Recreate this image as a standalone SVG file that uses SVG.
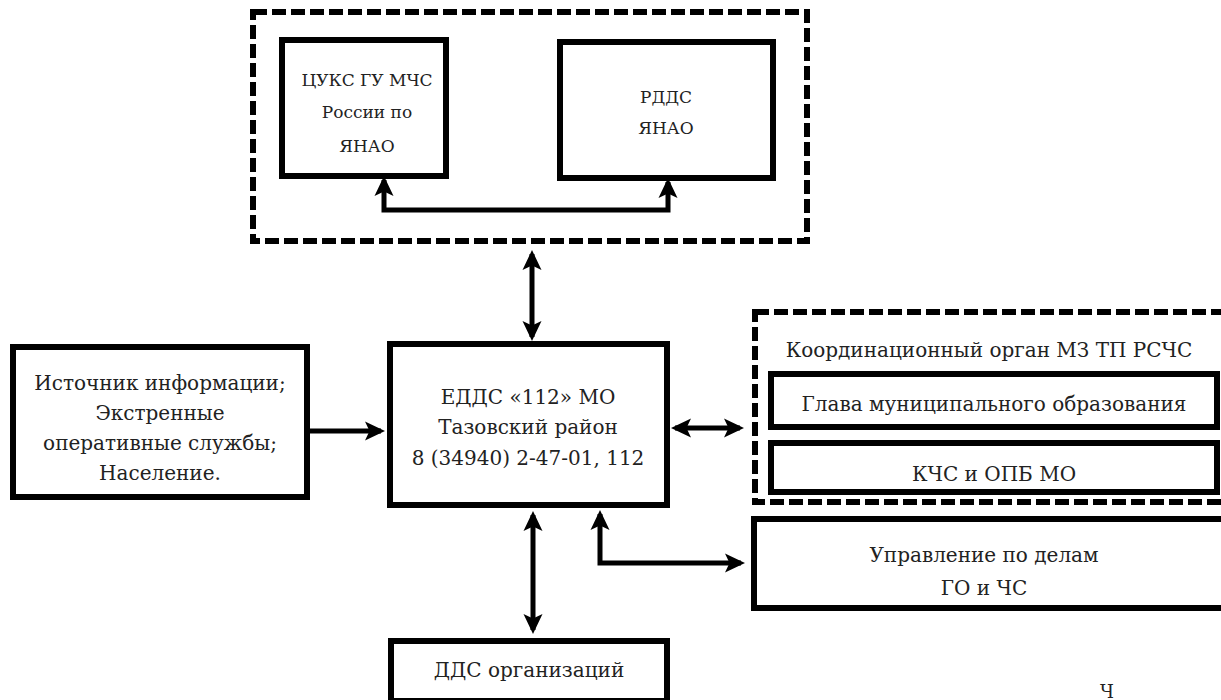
<svg xmlns="http://www.w3.org/2000/svg" width="1221" height="700" viewBox="0 0 1221 700">
<defs>
<marker id="ah" markerUnits="userSpaceOnUse" markerWidth="22" markerHeight="22" refX="16" refY="11" orient="auto-start-reverse" viewBox="0 0 22 22">
<path d="M0,1.5 L20,11 L0,20.5 L4.5,11 Z" fill="#000"/>
</marker>
<style>
.box{fill:#fff;stroke:#000;stroke-width:6}
.dash{fill:none;stroke:#000;stroke-width:6;stroke-dasharray:14,5}
.con{fill:none;stroke:#000;stroke-width:5}
.t{font-family:'DejaVu Serif','Liberation Serif',serif;font-size:20px;fill:#222;text-anchor:middle}
.s{font-size:17px}
</style>
</defs>
<rect width="1221" height="700" fill="#fff"/>

<g id="group-top">
<rect class="dash" x="253" y="12" width="554" height="229"/>
</g>
<g id="node-tsuks">
<rect class="box" x="282" y="40" width="164" height="136"/>
<text class="t s" x="367" y="86">ЦУКС ГУ МЧС</text>
<text class="t s" x="367" y="118">России по</text>
<text class="t s" x="367" y="152">ЯНАО</text>
</g>
<g id="node-rdds">
<rect class="box" x="560" y="42" width="213" height="136"/>
<text class="t s" x="666" y="103">РДДС</text>
<text class="t s" x="666" y="134">ЯНАО</text>
</g>

<g id="node-source">
<rect class="box" x="13" y="347" width="294" height="150"/>
<text class="t" x="160" y="390">Источник информации;</text>
<text class="t" x="160" y="420">Экстренные</text>
<text class="t" x="160" y="450">оперативные службы;</text>
<text class="t" x="160" y="480">Население.</text>
</g>

<g id="node-edds">
<rect class="box" x="390" y="344" width="277" height="161"/>
<text class="t" x="528" y="404">ЕДДС «112» МО</text>
<text class="t" x="528" y="434">Тазовский район</text>
<text class="t" x="528" y="465">8 (34940) 2-47-01, 112</text>
</g>

<g id="group-coord">
<rect class="dash" x="755" y="312" width="480" height="190"/>
<text class="t" x="989" y="357">Координационный орган МЗ ТП РСЧС</text>
</g>
<g id="node-glava">
<rect class="box" x="771" y="374" width="446" height="53"/>
<text class="t" x="994" y="411">Глава муниципального образования</text>
</g>
<g id="node-kchs">
<rect class="box" x="771" y="443" width="446" height="49"/>
<text class="t" x="994" y="481">КЧС и ОПБ МО</text>
</g>

<g id="node-upr">
<rect class="box" x="754" y="519" width="480" height="89"/>
<text class="t" x="984" y="562">Управление по делам</text>
<text class="t" x="984" y="595">ГО и ЧС</text>
</g>

<g id="node-dds">
<rect class="box" x="391" y="641" width="276" height="60"/>
<text class="t" x="529" y="677">ДДС организаций</text>
</g>

<text class="t" x="1107" y="698" style="font-size:18px">Ч</text>

<g id="connectors">
<path class="con" d="M384,180 L384,210 L668,210 L668,182" marker-start="url(#ah)" marker-end="url(#ah)"/>
<path class="con" d="M532,254 L532,337" marker-start="url(#ah)" marker-end="url(#ah)"/>
<path class="con" d="M310,431 L381,431" marker-end="url(#ah)"/>
<path class="con" d="M675,428 L740,428" marker-start="url(#ah)" marker-end="url(#ah)"/>
<path class="con" d="M600,514 L600,563 L741,563" marker-start="url(#ah)" marker-end="url(#ah)"/>
<path class="con" d="M533,515 L533,630" marker-start="url(#ah)" marker-end="url(#ah)"/>
</g>
</svg>
